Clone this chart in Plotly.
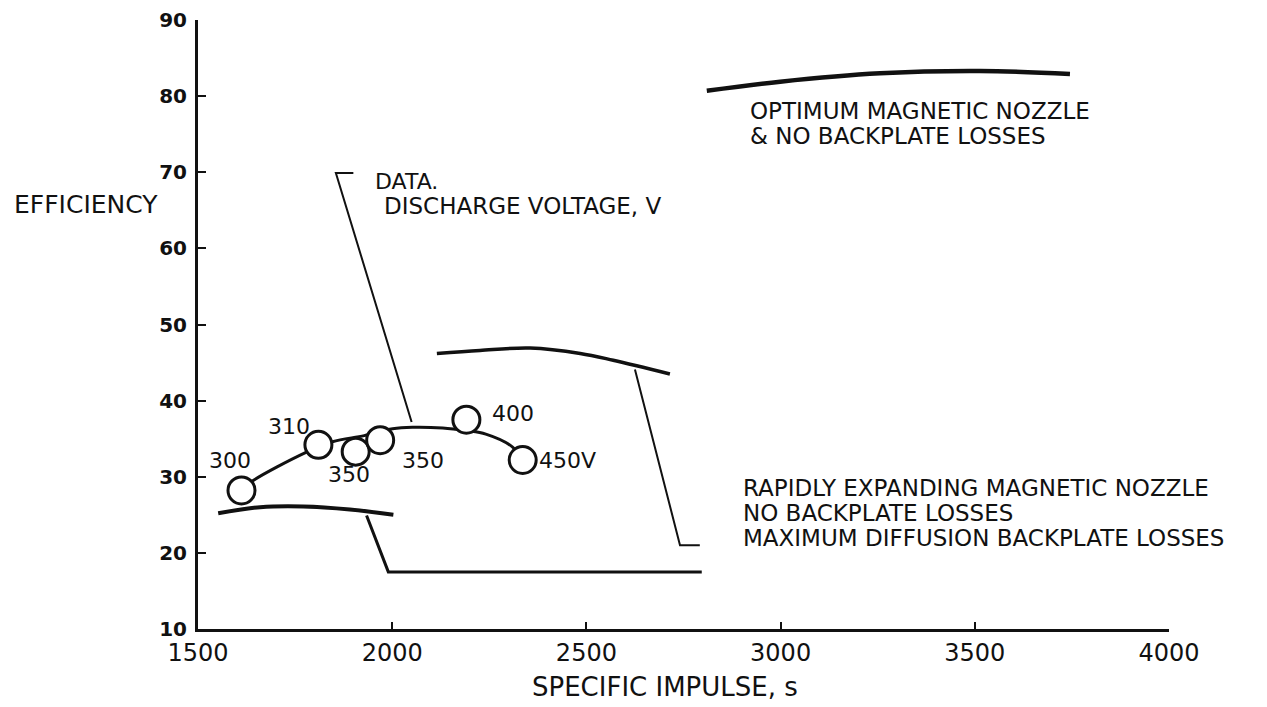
import plotly.graph_objects as go

# ---- data ----
voltage_labels = ["300", "310", "350", "350", "400", "450V"]
isp_data = [1612, 1810, 1906, 1969, 2191, 2336]
eff_data = [28.2, 34.2, 33.3, 34.8, 37.5, 32.2]

fit_isp = [1612, 1636, 1778, 1846, 1928, 2001, 2052, 2130, 2190, 2241, 2310, 2336]
fit_eff = [28.2, 29.3, 33.2, 34.6, 35.4, 36.3, 36.5, 36.4, 36.05, 35.6, 33.9, 32.2]

opt_isp = [2810, 2999, 3256, 3513, 3745]
opt_eff = [80.7, 81.9, 83.0, 83.3, 82.9]

rapid_isp = [2115, 2226, 2355, 2484, 2569, 2715]
rapid_eff = [46.2, 46.6, 46.9, 46.2, 45.3, 43.5]

low_isp = [1552, 1660, 1771, 1891, 2003]
low_eff = [25.2, 26.0, 26.1, 25.7, 25.0]

diff_isp = [1934, 1990, 2797]
diff_eff = [24.9, 17.5, 17.5]

data_leader_isp = [1900, 1855, 2050]
data_leader_eff = [69.9, 69.9, 37.2]

rapid_leader_isp = [2625, 2741, 2792]
rapid_leader_eff = [44.1, 21.0, 21.0]

x_ticks = [1500, 2000, 2500, 3000, 3500, 4000]
y_ticks = [10, 20, 30, 40, 50, 60, 70, 80, 90]

FONT = "DejaVu Sans"
BLACK = "#111111"

fig = go.Figure()

def line(xs, ys, width, shape="linear"):
    fig.add_trace(go.Scatter(x=xs, y=ys, mode="lines",
                             line=dict(color=BLACK, width=width, shape=shape),
                             hoverinfo="skip", showlegend=False))

line(opt_isp, opt_eff, 4.5, "spline")
line(rapid_isp, rapid_eff, 3.5, "spline")
line(low_isp, low_eff, 4, "spline")
line(diff_isp, diff_eff, 3)
line(data_leader_isp, data_leader_eff, 2)
line(rapid_leader_isp, rapid_leader_eff, 2)
line(fit_isp, fit_eff, 3, "spline")

fig.add_trace(go.Scatter(x=isp_data, y=eff_data, mode="markers",
                         marker=dict(size=27, color="white",
                                     line=dict(color=BLACK, width=3)),
                         hoverinfo="skip", showlegend=False))

# data point labels (offsets in pixels)
shifts = [(-12, 30), (-29, 18), (-7, -23), (43, -20), (47, 6), (45, 0)]
for lab, xv, yv, (dx, dy) in zip(voltage_labels, isp_data, eff_data, shifts):
    fig.add_annotation(x=xv, y=yv, text=lab, showarrow=False,
                       xshift=dx, yshift=dy,
                       font=dict(family=FONT, size=22, color=BLACK))

def note(text, x, y, size):
    fig.add_annotation(x=x, y=y, text=text, showarrow=False, xanchor="left",
                       yanchor="middle",
                       font=dict(family=FONT, size=size, color=BLACK))

note("OPTIMUM MAGNETIC NOZZLE", 2916, 78.05, 23)
note("& NO BACKPLATE LOSSES", 2916, 74.76, 23)
note("DATA.", 1950, 68.72, 22)
note("DISCHARGE VOLTAGE, V", 1974, 65.57, 23)
note("RAPIDLY EXPANDING MAGNETIC NOZZLE", 2898, 28.55, 23)
note("NO BACKPLATE LOSSES", 2898, 25.25, 23)
note("MAXIMUM DIFFUSION BACKPLATE LOSSES", 2898, 21.95, 23)

fig.add_annotation(xref="paper", yref="y", x=-0.1916, y=65.7, text="EFFICIENCY",
                   showarrow=False, xanchor="left", yanchor="middle",
                   font=dict(family=FONT, size=25, color=BLACK))
fig.add_annotation(xref="x", yref="paper", x=2702, y=-0.095,
                   text="SPECIFIC IMPULSE, s", showarrow=False,
                   xanchor="center", yanchor="middle",
                   font=dict(family=FONT, size=26, color=BLACK))

fig.update_xaxes(range=[1500, 4000], tickvals=x_ticks,
                 ticktext=[str(v) for v in x_ticks],
                 ticks="inside", ticklen=7, tickwidth=2, tickcolor=BLACK,
                 showline=True, linewidth=3, linecolor=BLACK,
                 showgrid=False, zeroline=False, automargin=False,
                 tickfont=dict(family=FONT, size=24, color=BLACK))
fig.update_yaxes(range=[10, 90], tickvals=y_ticks,
                 ticktext=[str(v) for v in y_ticks],
                 ticks="inside", ticklen=8, tickwidth=2, tickcolor=BLACK,
                 showline=True, linewidth=3, linecolor=BLACK,
                 showgrid=False, zeroline=False, ticklabelstandoff=4,
                 automargin=False,
                 tickfont=dict(family=FONT, size=20, color=BLACK, weight="bold"))

# page body has an 8px margin, so the figure is shrunk by 8px and the
# plot area placed so that it lands on the reference pixels
fig.update_layout(width=1259, height=699, paper_bgcolor="white",
                  plot_bgcolor="white",
                  margin=dict(l=190, r=98, t=12, b=78),
                  showlegend=False)

fig.write_html("out.html")
